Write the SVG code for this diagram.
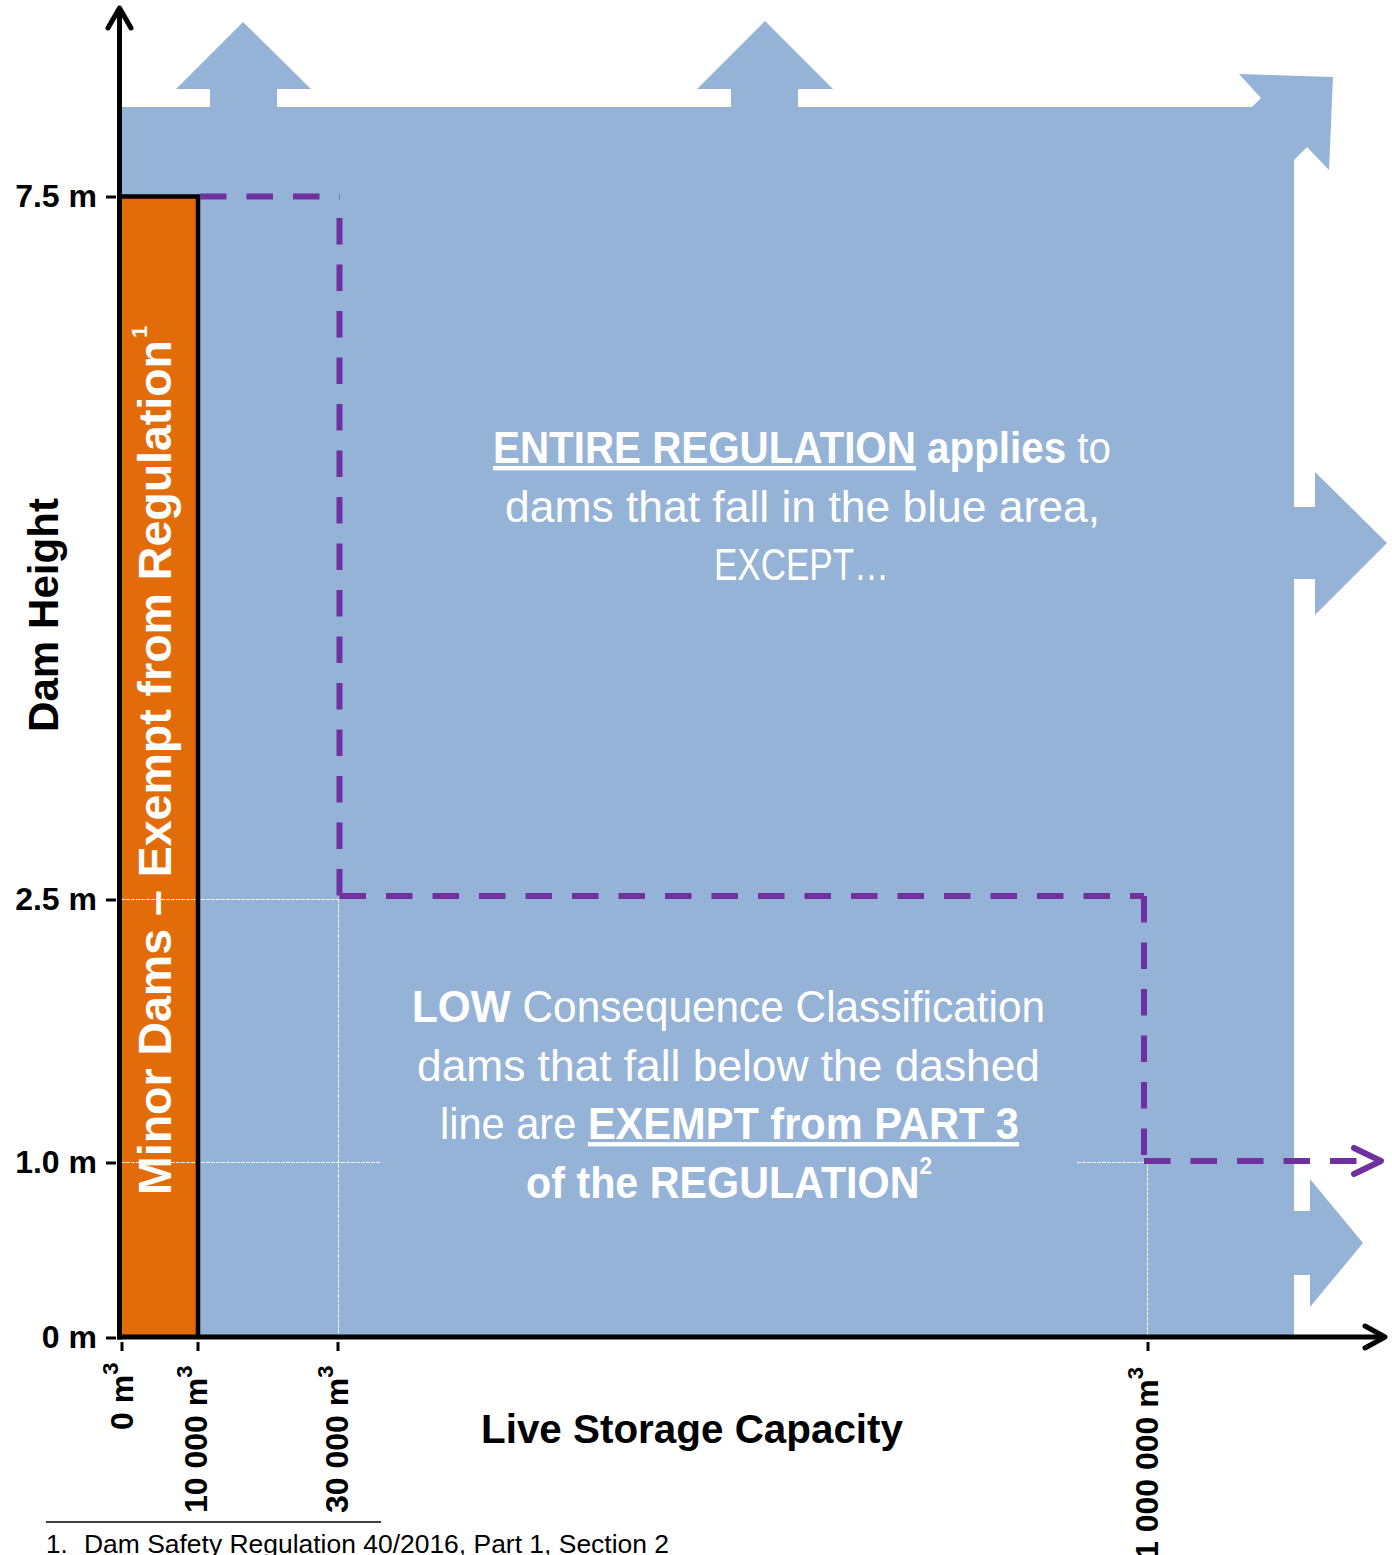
<svg xmlns="http://www.w3.org/2000/svg" width="1392" height="1555" viewBox="0 0 1392 1555">
<style>
.blue{fill:#95B3D7}
.orange{fill:#E36C0A}
.grid{stroke:#FFFFFF;stroke-width:1;stroke-dasharray:4 1;opacity:0.85;fill:none}
.axis{stroke:#000;stroke-width:5;fill:none;stroke-linecap:butt}
.chev{stroke:#000;stroke-width:5;fill:none;stroke-linecap:round;stroke-linejoin:round}
.tick{stroke:#000;stroke-width:3}
.dash{stroke:#7030A0;stroke-width:6;fill:none;stroke-dasharray:26.5 20}
.pchev{stroke:#7030A0;stroke-width:6;fill:none;stroke-linecap:round;stroke-linejoin:round}
.lbl{font-family:"Liberation Sans",Arial,sans-serif;font-weight:bold;font-size:32px;fill:#000}
.wt{font-family:"Liberation Sans",Arial,sans-serif;font-size:44px;fill:#FFFFFF}
.b{font-weight:bold}
.u{text-decoration:underline}
</style>

<g id="blue-area">
<path class="blue" d="M121,107 L210,107 L210,89 L176,89 L243,22 L311,89 L277,89 L277,107 L731,107 L731,89 L697,89 L765,21 L833,89 L798,89 L798,107 L1252,107 L1261,98 L1239,74 L1333,77 L1329,170 L1307,147 L1294,160 L1294,507 L1315,507 L1315,472 L1387,543 L1315,615 L1315,579 L1294,579 L1294,1211 L1310,1211 L1310,1179 L1363,1243 L1310,1307 L1310,1275 L1294,1275 L1294,1335 L121,1335 Z"/>
</g>

<g id="minor-dams">
<rect class="orange" x="121" y="197" width="77" height="1138"/>
</g>

<g id="gridlines">
<line class="grid" x1="121" y1="899.5" x2="338" y2="899.5"/>
<line class="grid" x1="338.5" y1="899" x2="338.5" y2="1335"/>
<line class="grid" x1="121" y1="1162.5" x2="381" y2="1162.5"/>
<line class="grid" x1="1077" y1="1162.5" x2="1144" y2="1162.5"/>
<line class="grid" x1="1147.5" y1="1162" x2="1147.5" y2="1335"/>
</g>

<g id="minor-dams-border">
<path d="M119,196.5 H200 M198,196 V1336" stroke="#000" stroke-width="4.5" fill="none"/>
</g>

<g id="connectors">
<path class="dash" d="M200,196.5 H340"/>
<path class="dash" d="M339.5,218 V899"/>
<path class="dash" d="M339.5,896 H1144"/>
<path class="dash" d="M1144,896 V1161"/>
<path class="dash" d="M1144,1161 H1358"/>
<polyline class="pchev" points="1354,1148 1381,1161 1354,1174"/>
</g>

<g id="axes">
<line class="axis" x1="119.5" y1="9" x2="119.5" y2="1339.5"/>
<polyline class="chev" points="108,28 119.5,8 131,28"/>
<line class="axis" x1="117" y1="1337" x2="1383" y2="1337"/>
<polyline class="chev" points="1365,1326 1385,1337 1365,1348"/>
<line class="tick" x1="106" y1="197" x2="116" y2="197"/>
<line class="tick" x1="106" y1="900" x2="116" y2="900"/>
<line class="tick" x1="106" y1="1163" x2="116" y2="1163"/>
<line class="tick" x1="106" y1="1338" x2="116" y2="1338"/>
<line class="tick" x1="122" y1="1342" x2="122" y2="1351"/>
<line class="tick" x1="198" y1="1342" x2="198" y2="1351"/>
<line class="tick" x1="338" y1="1342" x2="338" y2="1351"/>
<line class="tick" x1="1148" y1="1342" x2="1148" y2="1351"/>
</g>

<g id="y-labels">
<text class="lbl" x="97" y="207" text-anchor="end">7.5 m</text>
<text class="lbl" x="97" y="910" text-anchor="end">2.5 m</text>
<text class="lbl" x="97" y="1173" text-anchor="end">1.0 m</text>
<text class="lbl" x="97" y="1348" text-anchor="end">0 m</text>
<text class="lbl" transform="translate(58,732) rotate(-90)" font-size="42" textLength="234" lengthAdjust="spacingAndGlyphs" style="font-size:42px">Dam Height</text>
</g>

<g id="x-labels">
<text class="lbl" transform="translate(133,1430) rotate(-90)">0 m<tspan dy="-15" style="font-size:22px">3</tspan></text>
<text class="lbl" transform="translate(207,1513) rotate(-90)">10 000 m<tspan dy="-15" style="font-size:22px">3</tspan></text>
<text class="lbl" transform="translate(348,1513) rotate(-90)">30 000 m<tspan dy="-15" style="font-size:22px">3</tspan></text>
<text class="lbl" transform="translate(1158,1559) rotate(-90)">1 000 000 m<tspan dy="-15" style="font-size:22px">3</tspan></text>
<text class="lbl" x="481" y="1443" textLength="422" lengthAdjust="spacingAndGlyphs" style="font-size:40px">Live Storage Capacity</text>
</g>

<g id="minor-dams-label">
<text class="wt b" transform="translate(171,1195) rotate(-90)" textLength="855" lengthAdjust="spacingAndGlyphs" style="font-size:46px">Minor Dams – Exempt from Regulation</text>
<text class="wt b" transform="translate(147,338) rotate(-90)" style="font-size:22px">1</text>
</g>

<g id="entire-regulation">
<text class="wt" x="493" y="463" textLength="618" lengthAdjust="spacingAndGlyphs"><tspan class="b u">ENTIRE REGULATION</tspan><tspan class="b"> applies</tspan> to</text>
<text class="wt" x="505" y="522" textLength="595" lengthAdjust="spacingAndGlyphs">dams that fall in the blue area,</text>
<text class="wt" x="714" y="580" textLength="175" lengthAdjust="spacingAndGlyphs">EXCEPT…</text>
</g>

<g id="low-consequence">
<text class="wt" x="412" y="1022" textLength="633" lengthAdjust="spacingAndGlyphs"><tspan class="b">LOW</tspan> Consequence Classification</text>
<text class="wt" x="417" y="1081" textLength="623" lengthAdjust="spacingAndGlyphs">dams that fall below the dashed</text>
<text class="wt" x="440" y="1139" textLength="579" lengthAdjust="spacingAndGlyphs">line are <tspan class="b u">EXEMPT from PART 3</tspan></text>
<text class="wt b" x="526" y="1198" textLength="406" lengthAdjust="spacingAndGlyphs">of the REGULATION<tspan dy="-24" style="font-size:24px">2</tspan></text>
</g>

<g id="footnote">
<line x1="46" y1="1522" x2="381" y2="1522" stroke="#000" stroke-width="1.5"/>
<text x="46" y="1553" style="font-family:'Liberation Sans',Arial,sans-serif;font-size:26px;fill:#000">1.</text>
<text x="84" y="1553" textLength="585" lengthAdjust="spacingAndGlyphs" style="font-family:'Liberation Sans',Arial,sans-serif;font-size:26px;fill:#000">Dam Safety Regulation 40/2016, Part 1, Section 2</text>
</g>
</svg>
